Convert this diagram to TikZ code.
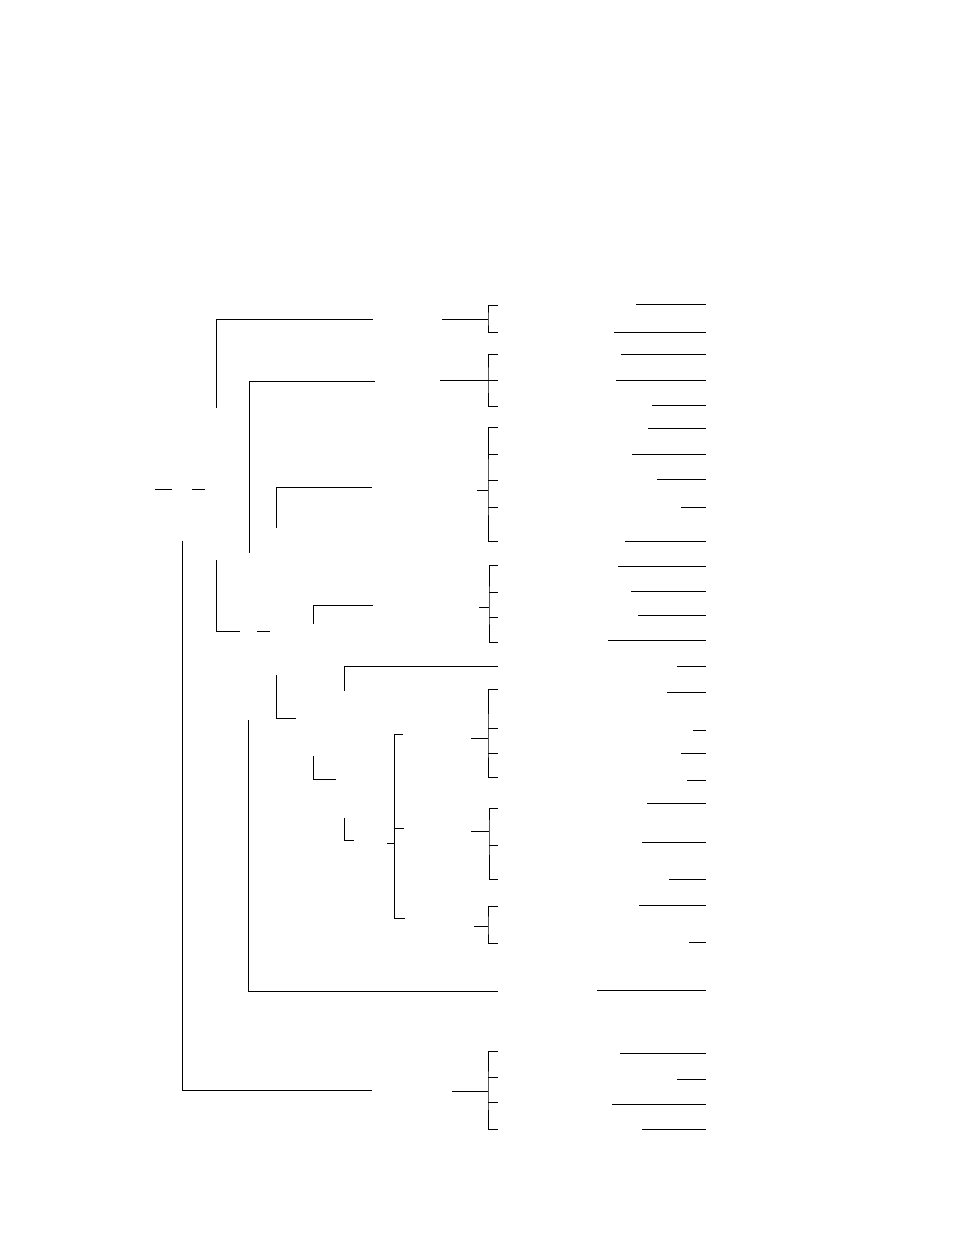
\documentclass[tikz,border=0pt]{standalone}
\usepackage{tikz}
\tikzstyle{branch}=[line width=0.8pt,draw=black]
\tikzstyle{leaf}=[line width=0.8pt,draw=black]

\begin{document}
\begin{tikzpicture}[x=1pt,y=-1pt,line cap=butt]
            \useasboundingbox (0,0) rectangle (954,1235);

            % ROOT PART

            \path[branch] (155,489) edge (172,489);
            \path[branch] (192,489) edge (205,489);
            \draw[branch] (216,408) |- (373,319);
            \draw[branch] (249,553) |- (375,381);
            \draw[branch] (276,528) |- (372,487);
            \draw[branch] (182,541) |- (372,1090);
            \draw[branch] (216,560) |- (240,631);
            \path[branch] (257,631) edge (270,631);
            \draw[branch] (313,624) |- (373,605);
            \draw[branch] (344,691) |- (498,666);
            \draw[branch] (276,675) |- (296,718);
            \draw[branch] (248,720) |- (498,991);
            \draw[branch] (313,756) |- (336,779);
            \draw[branch] (344,818) |- (354,840);

            % INNER BRACKET

            \draw[branch] (403,734) -- (394,734) -- (394,918) -- (405,918);
            \path[branch] (394,828) edge (404,828);
            \path[branch] (387,843) edge (394,843);

            % BRACKETS

            \coordinate (b1) at (488,319);
            \coordinate (b2) at (488,380);
            \coordinate (b3) at (488,490);
            \coordinate (b4) at (489,607);
            \coordinate (b5) at (488,738);
            \coordinate (b6) at (489,831);
            \coordinate (b7) at (488,926);
            \coordinate (b8) at (488,1091);

            \draw[branch] (442,319) -- (b1);
            \draw[branch] (498,305) -| (b1) |- (498,332);
            \draw[branch] (440,380) -- (b2);
            \draw[branch] (498,354) -| (b2) |- (498,406);
            \draw[branch] (b2) -- (498,380);
            \draw[branch] (477,490) -- (b3);
            \draw[branch] (498,427) -| (b3) |- (498,541);
            \foreach \y in {454,480,507} \draw[branch] (488,\y) -- (498,\y);
            \draw[branch] (479,607) -- (b4);
            \draw[branch] (498,565) -| (b4) |- (498,642);
            \foreach \y in {592,617} \draw[branch] (489,\y) -- (498,\y);
            \draw[branch] (471,738) -- (b5);
            \draw[branch] (498,689) -| (b5) |- (498,777);
            \foreach \y in {728,753} \draw[branch] (488,\y) -- (498,\y);
            \draw[branch] (471,831) -- (b6);
            \draw[branch] (498,808) -| (b6) |- (498,879);
            \draw[branch] (489,845) -- (498,845);
            \draw[branch] (474,926) -- (b7);
            \draw[branch] (498,906) -| (b7) |- (498,943);
            \draw[branch] (452,1091) -- (b8);
            \draw[branch] (498,1051) -| (b8) |- (498,1129);
            \foreach \y in {1077,1102} \draw[branch] (488,\y) -- (498,\y);

            % LEAVES

            \foreach \y/\x in {304/636,332/614,354/621,380/616,405/652,428/648,
                454/632,479/657,507/681,541/625,566/618,591/631,615/638,640/608,
                666/677,692/667,730/693,753/681,780/687,803/647,842/642,879/669,
                905/639,942/689,990/597,1053/620,1079/677,1104/612,1129/642}
                \draw[leaf] (\x,\y) -- (706,\y);

\end{tikzpicture}
\end{document}
